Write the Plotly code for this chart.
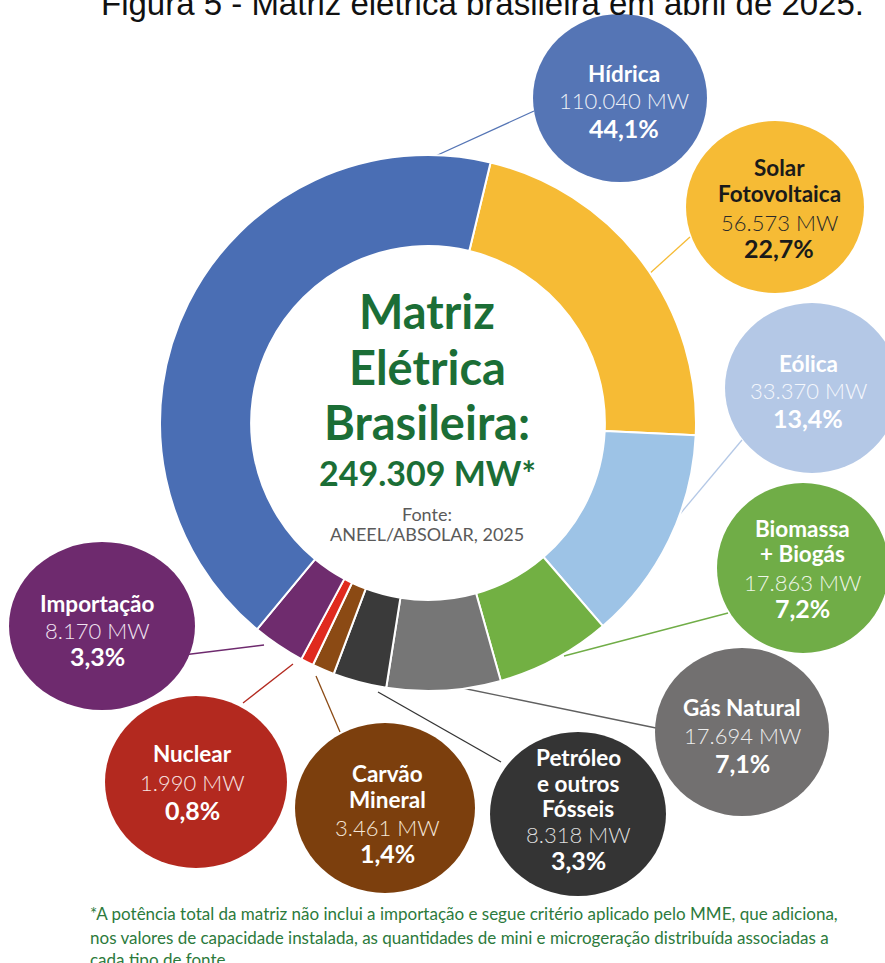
import plotly.graph_objects as go

# ---------------- data ----------------
sources = ["Hídrica", "Solar Fotovoltaica", "Eólica", "Biomassa + Biogás", "Gás Natural",
           "Petróleo e outros Fósseis", "Carvão Mineral", "Nuclear", "Importação"]
capacity_mw = [110040, 56573, 33370, 17863, 17694, 8318, 3461, 1990, 8170]
share_labels = ["44,1%", "22,7%", "13,4%", "7,2%", "7,1%", "3,3%", "1,4%", "0,8%", "3,3%"]
name_lines = [["Hídrica"], ["Solar", "Fotovoltaica"], ["Eólica"], ["Biomassa", "+ Biogás"],
              ["Gás Natural"], ["Petróleo", "e outros", "Fósseis"], ["Carvão", "Mineral"],
              ["Nuclear"], ["Importação"]]
ring_order = [1, 2, 3, 4, 5, 6, 7, 8, 0]   # clockwise order around the ring
excluded_from_total = ["Importação"]

title_text = "Figura 5 - Matriz elétrica brasileira em abril de 2025."
source_text = ["Fonte:", "ANEEL/ABSOLAR, 2025"]
footnote_lines = [
    "*A potência total da matriz não inclui a importação e segue critério aplicado pelo MME, que adiciona,",
    "nos valores de capacidade instalada, as quantidades de mini e microgeração distribuída associadas a",
    "cada tipo de fonte.",
]

# ---------------- styles ----------------
ring_colors = ["#4A6EB4", "#F6BB35", "#9DC3E6", "#72B043", "#767676",
               "#3A3A3A", "#8B4A14", "#E02A1E", "#6F2C6E"]
bubble_colors = ["#5575B5", "#F6BB35", "#B4C8E6", "#70AD47", "#727070",
                 "#343434", "#7C3F0D", "#B3291F", "#6E2A6E"]
name_colors = ["#FFFFFF", "#1A1A1A", "#FFFFFF", "#FFFFFF", "#FFFFFF",
               "#FFFFFF", "#FFFFFF", "#FFFFFF", "#FFFFFF"]
mw_colors = ["#EEF1F8", "#2A2A2A", "#F4F7FC", "#EEF6E8", "#EEEEEE",
             "#DDDDDD", "#F5E6D8", "#F8E4E2", "#F1E4F1"]
line_colors = ["#5575B5", "#F6BB35", "#B4C8E6", "#70AD47", "#606060",
               "#343434", "#8B4A14", "#B3291F", "#6E2A6E"]
GREEN = "#1B6E36"

W, H = 885, 963
# ring geometry (pixels)
RING_CX, RING_CY, RING_R = 428, 423, 268
HOLE = 0.66
ROTATION = 13.5

# bubble layout: centre, radii, text x, line ys, connector (from, to)
bubbles = [
    dict(cx=620, cy=98, rx=87, ry=84, tx=624, ys=[73, 100, 128], a=(431, 158), b=(534, 111)),
    dict(cx=775, cy=207, rx=89, ry=86, tx=779, ys=[167, 193, 222, 248], a=(648, 275), b=(690, 237)),
    dict(cx=812, cy=388, rx=87, ry=85, tx=808, ys=[363, 390, 418], a=(680, 514), b=(742, 440)),
    dict(cx=803, cy=568, rx=86, ry=85, tx=802, ys=[528, 553, 582, 608], a=(564, 656), b=(728, 613)),
    dict(cx=742, cy=732, rx=87, ry=84, tx=742, ys=[707, 735, 763], a=(462, 688), b=(656, 728)),
    dict(cx=578, cy=814, rx=88, ry=82, tx=578, ys=[757, 783, 808, 834, 860], a=(378, 692), b=(501, 762)),
    dict(cx=385, cy=808, rx=90, ry=85, tx=387, ys=[773, 799, 827, 853], a=(316, 676), b=(340, 732)),
    dict(cx=196, cy=782, rx=91, ry=86, tx=192, ys=[753, 782, 810], a=(293, 664), b=(243, 703)),
    dict(cx=102, cy=626, rx=93, ry=84, tx=97, ys=[603, 630, 656], a=(264, 645), b=(183, 655)),
]


def fmt_mw(v):
    return f"{v:,}".replace(",", ".") + " MW"


fig = go.Figure()

# donut ring
fig.add_trace(go.Pie(
    labels=[sources[i] for i in ring_order],
    values=[capacity_mw[i] for i in ring_order],
    marker=dict(colors=[ring_colors[i] for i in ring_order],
                line=dict(color="white", width=2)),
    hole=HOLE, sort=False, direction="clockwise", rotation=ROTATION,
    textinfo="none", hoverinfo="label+value", showlegend=False,
    domain=dict(x=[(RING_CX - RING_R) / W, (RING_CX + RING_R) / W],
                y=[1 - (RING_CY + RING_R) / H, 1 - (RING_CY - RING_R) / H]),
))

shapes = []
annotations = []
LATO = "Lato, 'Open Sans', sans-serif"

for i, b in enumerate(bubbles):
    # connector
    shapes.append(dict(type="line", xref="x", yref="y", layer="below",
                       x0=b["a"][0], y0=b["a"][1], x1=b["b"][0], y1=b["b"][1],
                       line=dict(color=line_colors[i], width=1.3)))
    # bubble
    shapes.append(dict(type="circle", xref="x", yref="y", layer="above",
                       x0=b["cx"] - b["rx"], x1=b["cx"] + b["rx"],
                       y0=b["cy"] - b["ry"], y1=b["cy"] + b["ry"],
                       fillcolor=bubble_colors[i], line=dict(width=0)))
    texts = [(t, "name") for t in name_lines[i]] + [(fmt_mw(capacity_mw[i]), "mw"), (share_labels[i], "pct")]
    for (t, kind), y in zip(texts, b["ys"]):
        if kind == "name":
            font = dict(family=LATO, size=22.5, color=name_colors[i], weight=700)
        elif kind == "mw":
            font = dict(family=LATO, size=22, color=mw_colors[i], weight=300)
        else:
            font = dict(family=LATO, size=25, color=name_colors[i], weight=700)
        annotations.append(dict(x=b["tx"], y=y, xref="x", yref="y", text=t, showarrow=False,
                                xanchor="center", yanchor="middle", font=font))

# centre text
total_mw = sum(v for s, v in zip(sources, capacity_mw) if s not in excluded_from_total)
centre_lines = [("Matriz", 311, 47, GREEN, 700), ("Elétrica", 367, 47, GREEN, 700),
                ("Brasileira:", 422, 47, GREEN, 700),
                (fmt_mw(total_mw) + "*", 472, 34, GREEN, 700),
                (source_text[0], 514, 18, "#5A5A5A", 400),
                (source_text[1], 534, 18, "#5A5A5A", 400)]
for t, y, s, c, w in centre_lines:
    annotations.append(dict(x=427, y=y, xref="x", yref="y", text=t, showarrow=False,
                            xanchor="center", yanchor="middle",
                            font=dict(family=LATO, size=s, color=c, weight=w)))

# footnote
for t, y in zip(footnote_lines, [913, 937, 959]):
    annotations.append(dict(x=88, y=y, xref="x", yref="y", text=t, showarrow=False,
                            xanchor="left", yanchor="middle",
                            font=dict(family=LATO, size=17, color="#2C7A3C")))

# title (partially cut at the top edge)
annotations.append(dict(x=482 / W, y=1 - 4 / H, xref="paper", yref="paper", text=title_text,
                        showarrow=False, xanchor="center", yanchor="middle",
                        font=dict(family="Liberation Sans, Arial, sans-serif", size=33, color="#111111")))

fig.update_layout(
    width=W, height=H, margin=dict(l=0, r=0, t=0, b=0),
    paper_bgcolor="white", plot_bgcolor="rgba(0,0,0,0)",
    xaxis=dict(range=[0, W], visible=False, fixedrange=True),
    yaxis=dict(range=[H, 0], visible=False, fixedrange=True),
    shapes=shapes, annotations=annotations, showlegend=False,
)

fig.write_html("out.html", config={"displayModeBar": False},
               post_script="document.body.style.margin='0';document.body.style.overflow='hidden';")
